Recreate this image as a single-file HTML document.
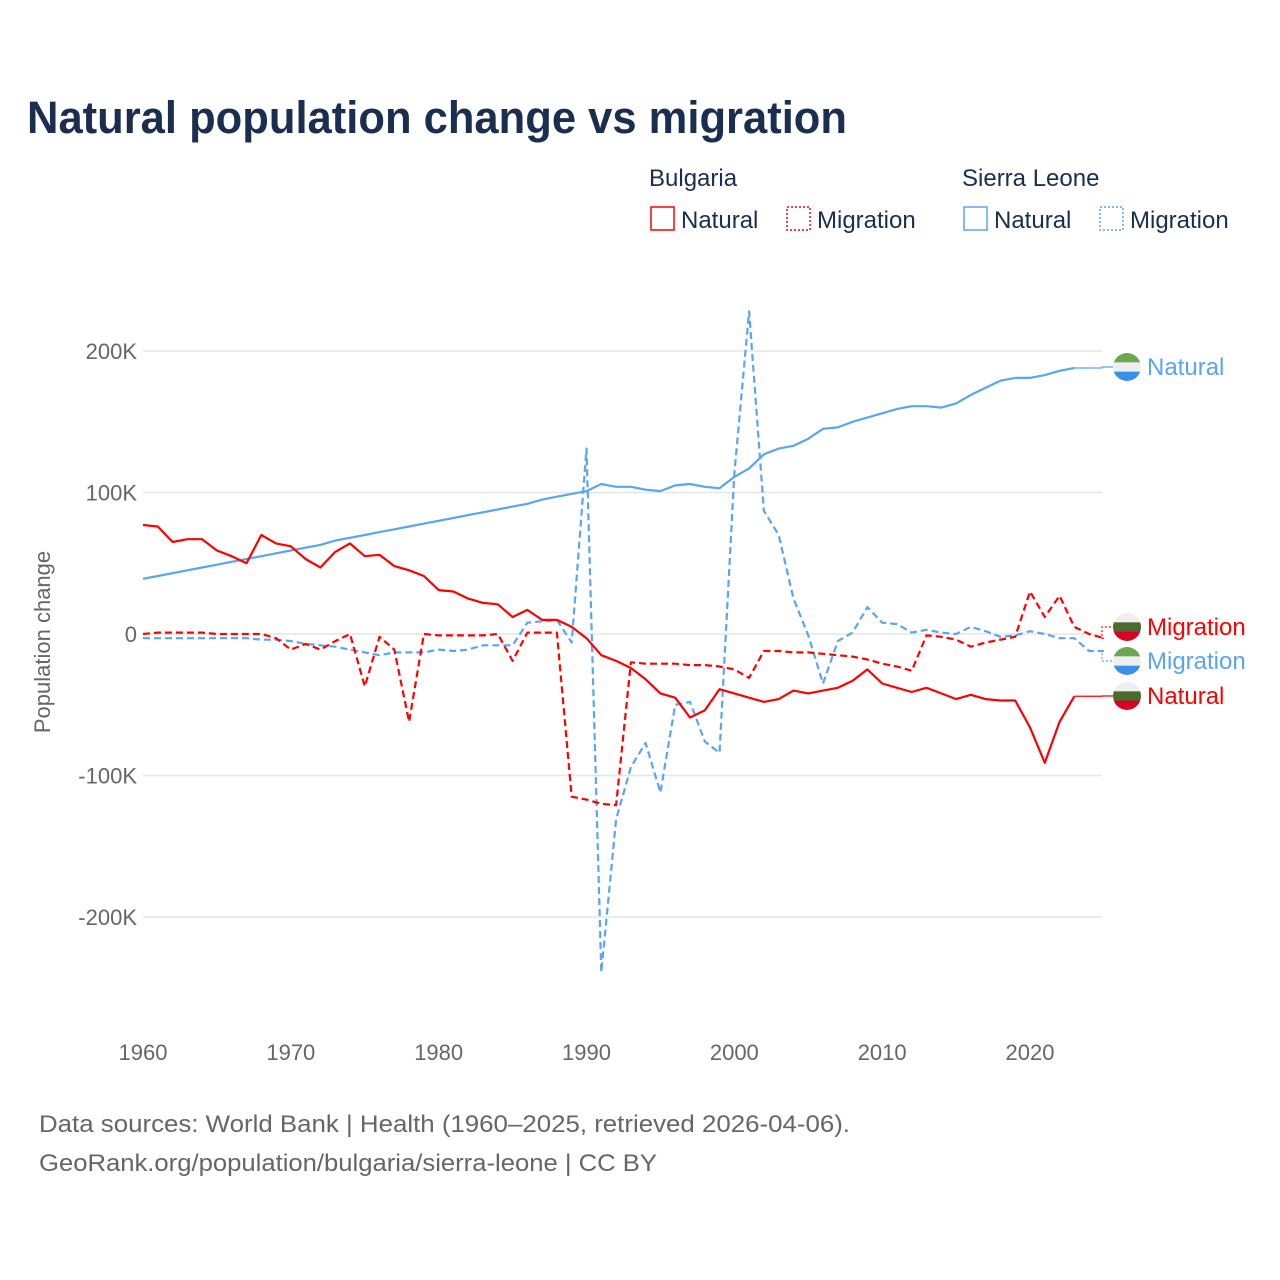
<!DOCTYPE html>
<html><head><meta charset="utf-8">
<style>
body{margin:0;background:#fff;font-family:"Liberation Sans",sans-serif;}
#wrap{position:relative;width:1280px;height:1280px;overflow:hidden;}
svg text{font-family:"Liberation Sans",sans-serif;}
</style></head>
<body><div id="wrap">
<svg id="chart" width="1280" height="1280"></svg>
</div>
<script>
const years = [];
for (let y = 1960; y <= 2025; y++) years.push(y);
const bgNatural = [77,76,65,67,67,59,55,50,70,64,62,53,47,58,64,55,56,48,45,41,31,30,25,22,21,12,17,10,10,5,-3,-15,-19,-24,-32,-42,-45,-59,-54,-39,-42,-45,-48,-46,-40,-42,-40,-38,-33,-25,-35,-38,-41,-38,-42,-46,-43,-46,-47,-47,-66,-91,-62,-44];
const bgMigration = [0,1,1,1,1,0,0,0,0,-3,-11,-7,-11,-5,0,-37,-2,-11,-62,0,-1,-1,-1,-1,0,-19,1,1,1,-115,-117,-120,-121,-20,-21,-21,-21,-22,-22,-23,-25,-31,-12,-12,-13,-13,-14,-15,-16,-18,-21,-23,-26,-1,-2,-4,-9,-6,-4,-2,30,12,27,5,0,-3];
const slNatural = [39,41,43,45,47,49,51,53,55,57,59,61,63,66,68,70,72,74,76,78,80,82,84,86,88,90,92,95,97,99,101,106,104,104,102,101,105,106,104,103,111,117,127,131,133,138,145,146,150,153,156,159,161,161,160,163,169,174,179,181,181,183,186,188];
const slMigration = [-3,-3,-3,-3,-3,-3,-3,-3,-4,-4,-5,-7,-8,-9,-11,-13,-15,-13,-13,-13,-11,-12,-11,-8,-8,-8,8,9,10,-6,131,-239,-131,-94,-77,-112,-50,-48,-76,-84,113,228,87,70,25,-1,-35,-5,1,19,8,7,1,3,1,0,5,2,-2,-1,2,0,-3,-3,-12,-12];
const yTicks = [200,100,0,-100,-200];
const yTickLabels = ["200K","100K","0","-100K","-200K"];
const xTicks = [1960,1970,1980,1990,2000,2010,2020];

const NS="http://www.w3.org/2000/svg";
const svg=document.getElementById('chart');
const X=y=>143+(y-1960)*(887/60);
const Y=v=>634-v*1.415;
function mk(tag,attrs,parent){const e=document.createElementNS(NS,tag);for(const k in attrs)e.setAttribute(k,attrs[k]);(parent||svg).appendChild(e);return e;}
function txt(s,attrs){const t=mk('text',attrs);t.textContent=s;return t;}

let t;
t=txt("Natural population change vs migration",{x:27,y:133,'font-size':45,'font-weight':'bold',fill:'#1a2e4f',textLength:820,lengthAdjust:'spacingAndGlyphs'});



yTicks.forEach((v,i)=>{
  const g=mk('line',{x1:143,x2:1102,y1:Y(v),y2:Y(v),stroke:'#e6e6e6','stroke-width':1.5});
  
  
  const l=txt(yTickLabels[i],{x:137,y:Y(v)+8,'font-size':22,fill:'#666','text-anchor':'end'});
  
  
});
xTicks.forEach(v=>{
  const l=txt(String(v),{x:X(v),y:1060,'font-size':22,fill:'#666','text-anchor':'middle'});
  
  
});
t=txt("Population change",{x:0,y:0,'font-size':22,fill:'#666','text-anchor':'middle',transform:'translate(50,642) rotate(-90)'});



function series(vals,color,dash,name){
  const d=vals.map((v,i)=>(i?'L':'M')+X(years[i]).toFixed(1)+' '+Y(v).toFixed(1)).join(' ');
  const p=mk('path',{d:d,fill:'none',stroke:color,'stroke-width':2.2,'stroke-dasharray':dash||'none','stroke-linejoin':'round'});
  
  
}
const RED='#ff0000',BLUE='#5aa5ef';
series(slNatural,BLUE,null,'sierra-leone-natural-line');
series(slMigration,BLUE,'7,4','sierra-leone-migration-line');
series(bgNatural,RED,null,'bulgaria-natural-line');
series(bgMigration,RED,'7,4','bulgaria-migration-line');

function flag(cx,cy,cols,name){
  const g=mk('g',{});
  
  
  const cp=mk('clipPath',{id:name+'-clip'},g);
  mk('circle',{cx:cx,cy:cy,r:14},cp);
  cols.forEach((c,i)=>mk('rect',{x:cx-14,y:cy-14+i*28/3,width:28,height:28/3+0.5,fill:c,'clip-path':'url(#'+name+'-clip)'},g));
}
const SL=['#6aa84f','#efefef','#3b8fe8'],BG=['#efefef','#4a6b2e','#d90022'];
function endLabel(lastVal,lastYear,ly,color,flagCols,label,name,dash){
  const x0=X(lastYear),y0=Y(lastVal);
  const p=mk('path',{d:`M${x0} ${y0} H1102 V${ly} H1113`,fill:'none',stroke:color,'stroke-width':1.2,'stroke-dasharray':dash||'none'});
  
  
  flag(1127,ly,flagCols,name+'-flag');
  const l=txt(label,{x:1147,y:ly+8,'font-size':24,fill:color});
  
  
}
endLabel(slNatural[slNatural.length-1],years[slNatural.length-1],367,BLUE,SL,'Natural','sl-natural');
endLabel(bgMigration[bgMigration.length-1],years[bgMigration.length-1],627,RED,BG,'Migration','bg-migration','2,2');
endLabel(slMigration[slMigration.length-1],years[slMigration.length-1],661,BLUE,SL,'Migration','sl-migration','2,2');
endLabel(bgNatural[bgNatural.length-1],years[bgNatural.length-1],696,RED,BG,'Natural','bg-natural');

function legend(x,y,color,dotted,label,name){
  const g=mk('g',{});
  
  
  mk('rect',{x:x,y:y-13,width:23,height:23,fill:'none',stroke:color,'stroke-width':1.5,'stroke-dasharray':dotted?'2,2':'none'},g);
  const l=mk('text',{x:x+30,y:y+8,'font-size':24,fill:'#1a2e4f'},g);l.textContent=label;
}
t=txt("Bulgaria",{x:649,y:186,'font-size':24,fill:'#1a2e4f'});


t=txt("Sierra Leone",{x:962,y:186,'font-size':24,fill:'#1a2e4f'});


legend(651,220,RED,false,'Natural','legend-bulgaria-natural');
legend(787,220,RED,true,'Migration','legend-bulgaria-migration');
legend(964,220,BLUE,false,'Natural','legend-sierra-leone-natural');
legend(1100,220,BLUE,true,'Migration','legend-sierra-leone-migration');

t=txt("Data sources: World Bank | Health (1960–2025, retrieved 2026-04-06).",{x:39,y:1132,'font-size':24,fill:'#666',textLength:811,lengthAdjust:'spacingAndGlyphs'});


t=txt("GeoRank.org/population/bulgaria/sierra-leone | CC BY",{x:39,y:1171,'font-size':24,fill:'#666',textLength:618,lengthAdjust:'spacingAndGlyphs'});


</script>
</body></html>
